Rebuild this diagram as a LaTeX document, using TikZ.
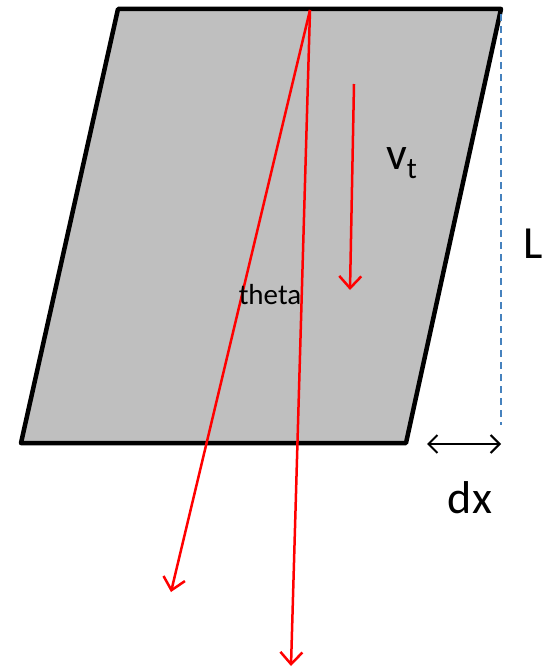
\documentclass[tikz,border=0pt]{standalone}
\usepackage{fontspec}
\setmainfont{Carlito}
\usetikzlibrary{arrows.meta}
\definecolor{fillgray}{RGB}{191,191,191}
\definecolor{dashblue}{RGB}{70,130,190}
\tikzset{
  ray/.style={red, line width=2.5pt, -{Straight Barb[length=12pt,width=22pt,line width=2.5pt]}},
  edge/.style={draw=black, fill=fillgray, line width=4.5pt, line join=round},
  lbl/.style={inner sep=0pt, font=\fontsize{46}{50}\selectfont},
}
\begin{document}
\begin{tikzpicture}[x=1pt,y=-1pt]
\useasboundingbox (0,0) rectangle (549,669);
\coordinate (tl) at (118,9);
\coordinate (tr) at (501,9);
\coordinate (br) at (406,443);
\coordinate (bl) at (21,443);
\path[edge] (tl) -- (tr) -- (br) -- (bl) -- cycle;
% dashed L line
\coordinate (dtop) at (501,14);
\coordinate (dbot) at (501,425);
\draw[dashblue, line width=1.6pt, dash pattern=on 7pt off 5pt] (dtop) -- (dbot);
% dx arrow
\coordinate (dxl) at (427,444);
\coordinate (dxr) at (501,444);
\draw[line width=2pt, {Straight Barb[length=9pt,width=18pt,line width=2pt]}-{Straight Barb[length=9pt,width=18pt,line width=2pt]}] (dxl) -- (dxr);
% rays
\coordinate (src) at (310,10);
\coordinate (e1) at (171,592);
\coordinate (e2) at (291,666);
\draw[ray] (src) -- (e1);
\draw[ray] (src) -- (e2);
\coordinate (vs) at (354,84);
\coordinate (ve) at (350,290);
\draw[ray] (vs) -- (ve);
% labels
\node[lbl, anchor=base west] (vt) at (386,169) {v\raisebox{-9pt}{\fontsize{30}{32}\selectfont t}};
\node[lbl] (L) at (533,244) {L};
\node[lbl] (dx) at (470,498) {dx};
\node[inner sep=0pt, font=\fontsize{29}{31}\selectfont] (th) at (270,295) {theta};
\end{tikzpicture}
\end{document}
